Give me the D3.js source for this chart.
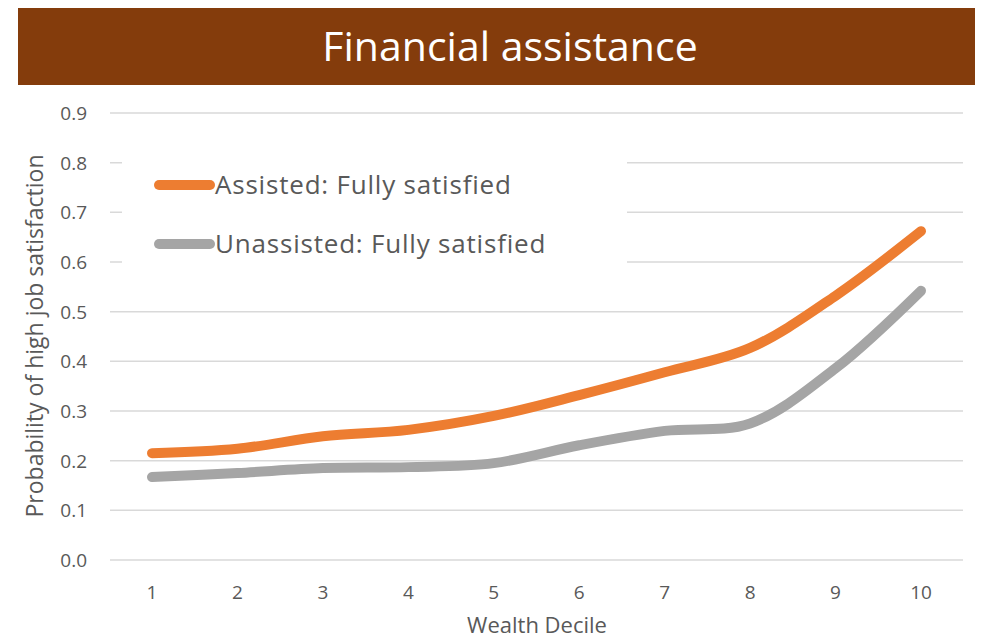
<!DOCTYPE html>
<html>
<head>
<meta charset="utf-8">
<script src="https://cdn.jsdelivr.net/npm/d3@7"></script>
<style>
  body { margin: 0; background: #fff; }
  text { font-family: "Open Sans", Lato, sans-serif; }
</style>
</head>
<body>
<div id="chart"></div>
<script>
const deciles = [1, 2, 3, 4, 5, 6, 7, 8, 9, 10];
const assisted = [0.215, 0.224, 0.249, 0.262, 0.29, 0.332, 0.378, 0.427, 0.532, 0.662];
const unassisted = [0.167, 0.175, 0.185, 0.187, 0.195, 0.231, 0.26, 0.275, 0.386, 0.542];
const yTicks = [0, 0.1, 0.2, 0.3, 0.4, 0.5, 0.6, 0.7, 0.8, 0.9];
const seriesNames = ["Assisted: Fully satisfied", "Unassisted: Fully satisfied"];
const colors = ["#ED7D31", "#A5A5A5"];

const W = 989, H = 640;
const svg = d3.select("#chart").append("svg")
    .attr("width", W)
    .attr("height", H);

// title banner
svg.append("rect")
    .attr("x", 18).attr("y", 8)
    .attr("width", 957).attr("height", 77)
    .attr("fill", "#843C0C");
svg.append("text")
    .attr("x", 510).attr("y", 61)
    .attr("text-anchor", "middle")
    .attr("fill", "#fff")
    .style("font-size", "41px")
    .text("Financial assistance");

const x = d3.scalePoint().domain(deciles).range([152, 921]);
const y = d3.scaleLinear().domain([0, 0.9]).range([560, 113]);

// gridlines
svg.append("g")
    .selectAll("line")
    .data(yTicks)
    .join("line")
    .attr("x1", 110).attr("x2", 963)
    .attr("y1", d => y(d)).attr("y2", d => y(d))
    .attr("stroke", "#D9D9D9")
    .attr("stroke-width", 1.5);

// y tick labels
svg.append("g")
    .selectAll("text")
    .data(yTicks)
    .join("text")
    .attr("x", 87)
    .attr("y", d => y(d) + 7)
    .attr("text-anchor", "end")
    .attr("fill", "#595959")
    .style("font-size", "19px")
    .text(d3.format(".1f"));

// x tick labels
svg.append("g")
    .selectAll("text")
    .data(deciles)
    .join("text")
    .attr("x", d => x(d))
    .attr("y", 599)
    .attr("text-anchor", "middle")
    .attr("fill", "#595959")
    .style("font-size", "19px")
    .text(d => d);

// axis titles
svg.append("text")
    .attr("x", 537).attr("y", 633)
    .attr("text-anchor", "middle")
    .attr("fill", "#595959")
    .style("font-size", "22px")
    .text("Wealth Decile");

svg.append("text")
    .attr("transform", "translate(43,336) rotate(-90)")
    .attr("text-anchor", "middle")
    .attr("fill", "#595959")
    .style("font-size", "23px")
    .text("Probability of high job satisfaction");

// lines
const line = d3.line()
    .x((d, i) => x(deciles[i]))
    .y(d => y(d))
    .curve(d3.curveCatmullRom.alpha(0.5));

[assisted, unassisted].forEach((vals, i) => {
    svg.append("path")
        .attr("d", line(vals))
        .attr("fill", "none")
        .attr("stroke", colors[i])
        .attr("stroke-width", 10)
        .attr("stroke-linecap", "round")
        .attr("stroke-linejoin", "round");
});

// legend (white box hides the gridlines behind it)
svg.append("rect")
    .attr("x", 122).attr("y", 140)
    .attr("width", 505).attr("height", 145)
    .attr("fill", "#fff");

const legend = svg.append("g")
    .selectAll("g")
    .data(seriesNames)
    .join("g")
    .attr("transform", (d, i) => `translate(0,${185 + i * 59})`);

legend.append("line")
    .attr("x1", 159).attr("x2", 210)
    .attr("y1", 0).attr("y2", 0)
    .attr("stroke", (d, i) => colors[i])
    .attr("stroke-width", 10)
    .attr("stroke-linecap", "round");

legend.append("text")
    .attr("x", 215).attr("y", 9)
    .attr("fill", "#595959")
    .style("font-size", "26px")
    .style("letter-spacing", "0.8px")
    .text(d => d);
</script>
</body>
</html>
